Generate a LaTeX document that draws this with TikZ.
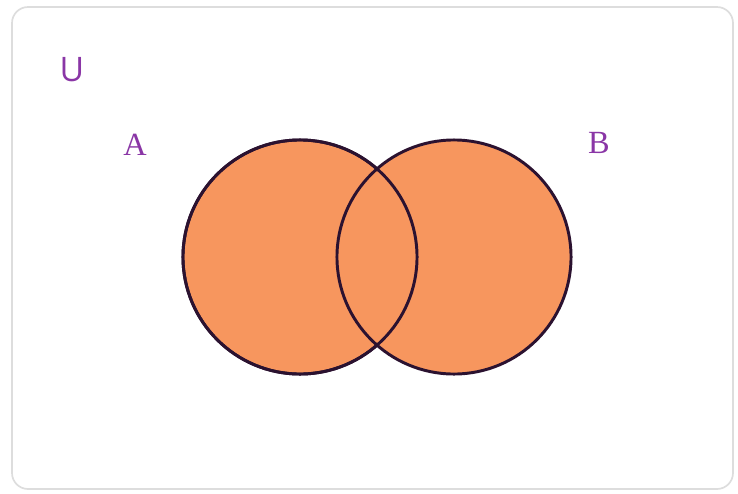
\documentclass[tikz,border=0pt]{standalone}
\usepackage{fontspec}
\setmainfont{Liberation Serif}
\setsansfont{Open Sans}
\usepackage{tikz}
\usepackage{xcolor}
\usetikzlibrary{positioning}
\definecolor{setfill} {HTML}{F7965E}
\definecolor{setedge} {HTML}{2B1230}
\definecolor{labelink}{HTML}{8A36A6}
\definecolor{frame}   {HTML}{DDDDDD}

\begin{document}
\begin{tikzpicture}[x=0.025cm,y=-0.025cm,
    setcircle/.style={circle,draw=setedge,line width=2.1pt,fill=setfill,
                      minimum size=5.85cm,inner sep=0pt},
    setlabel/.style={text=labelink,font=\fontsize{23}{26}\selectfont,inner sep=0pt}]
  \useasboundingbox (0,0) rectangle (738,494);
  % universe frame
  \draw[frame,line width=1.2pt,rounded corners=0.4cm,fill=white] (12,7) rectangle (733,489);
  % the two sets
  \node[setcircle] (setA) at (300,257) {};
  \node[setcircle] (setB) at (454,257) {};
  \node[setcircle,fill=none] at (setA) {};
  % labels
  \node[setlabel,font=\sffamily\fontsize{24}{28}\selectfont] (univ) at (72,70) {U};
  \node[setlabel] (labA) at (135,145) {A};
  \node[setlabel] (labB) at (599,143) {B};
\end{tikzpicture}
\end{document}
